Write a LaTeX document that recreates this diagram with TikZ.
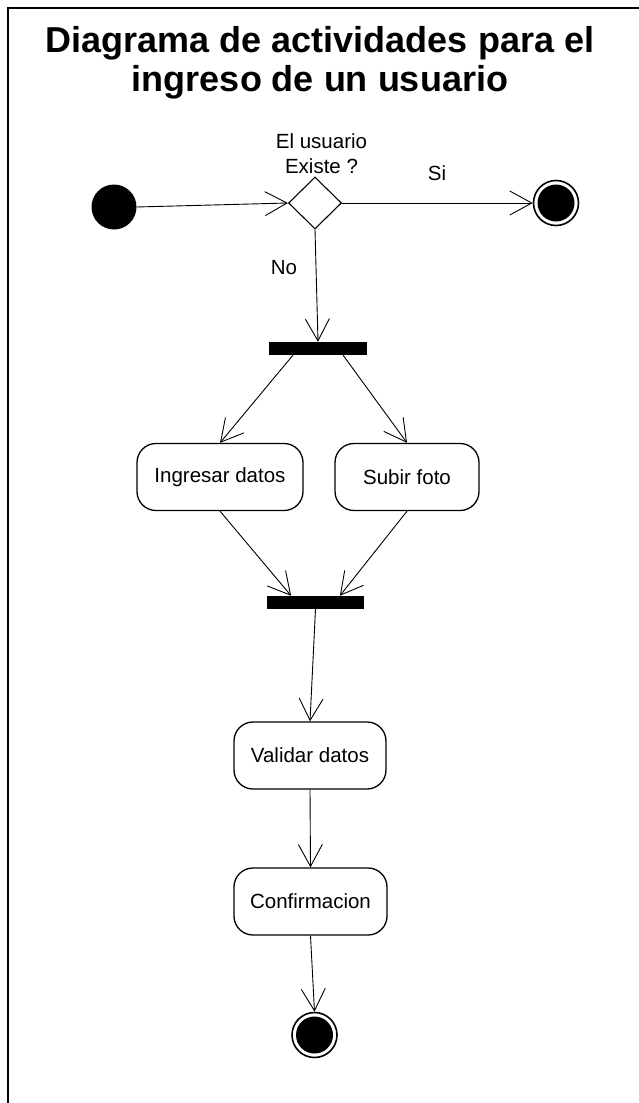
\documentclass[tikz,border=0pt]{standalone}
\usepackage{fontspec}
\setmainfont{Liberation Sans}
\usetikzlibrary{arrows.meta,shapes.geometric,calc}

\tikzset{
  flow/.style={-{Straight Barb[length=22pt,width=24pt]}, line width=0.9pt},
  activity/.style={draw, line width=1.3pt, rounded corners=19pt, inner sep=0pt,
    minimum height=67pt, font=\fontsize{20.5}{25}\selectfont},
  bar/.style={fill=black, draw=none, inner sep=0pt, minimum height=13pt},
  label/.style={anchor=base, inner sep=0pt, font=\fontsize{20.5}{25}\selectfont},
  titletext/.style={anchor=base, inner sep=0pt, font=\fontsize{36}{42}\selectfont\bfseries},
}

\begin{document}
\begin{tikzpicture}[x=1pt, y=-1pt]
  \useasboundingbox (0,0) rectangle (639,1103);

  % frame of the sheet
  \draw[line width=1.6pt] (8,1110) -- (8,8) -- (645,8);

  % heading
  \node[titletext] (title1) at (320,52) {Diagrama de actividades para el};
  \node[titletext] (title2) at (320,91) {ingreso de un usuario};

  % initial state, decision and final state on success
  \node[circle, fill=black, inner sep=0pt, minimum size=45pt] (start) at (114,207) {};
  \node[diamond, draw, line width=1.1pt, inner sep=0pt, minimum width=53pt, minimum height=52pt,
        aspect=1] (dec) at (315,203) {};
  \node[circle, draw, line width=1.6pt, inner sep=0pt, minimum size=45pt,
        path picture={\fill (path picture bounding box.center) circle (18.5pt);}] (endok) at (556,203) {};

  \node[label] (q1) at (321.5,148) {El usuario};
  \node[label] (q2) at (321.5,173) {Existe ?};
  \node[label] (si) at (437,180) {Si};
  \node[label] (no) at (284,274) {No};

  % fork, parallel activities, join
  \node[bar, minimum width=98pt] (fork) at (318,348.5) {};
  \node[activity, minimum width=166pt] (ing) at (220,477) {Ingresar datos};
  \node[activity, minimum width=144pt] (foto) at (407,477) {Subir foto};
  \node[bar, minimum width=97pt] (join) at (315.5,602.5) {};

  % sequential activities and final state
  \node[activity, minimum width=152pt] (val) at (310,755.5) {Validar datos};
  \node[activity, minimum width=153pt] (conf) at (310.5,901.5) {Confirmacion};
  \node[circle, draw, line width=1.6pt, inner sep=0pt, minimum size=45pt,
        path picture={\fill (path picture bounding box.center) circle (18.5pt);}] (endf) at (314.5,1035) {};

  % transitions
  \draw[flow] (start.east) -- (dec.west);
  \draw[flow] (dec.east) -- (endok.west);
  \draw[flow] (dec.south) -- (fork.north);
  \draw[flow] ($(fork.south west)!0.245!(fork.south east)$) -- (ing.north);
  \draw[flow] ($(fork.south west)!0.755!(fork.south east)$) -- (foto.north);
  \draw[flow] (ing.south) -- ($(join.north west)!0.25!(join.north east)$);
  \draw[flow] (foto.south) -- ($(join.north west)!0.75!(join.north east)$);
  \draw[flow] (join.south) -- (val.north);
  \draw[flow] (val.south) -- (conf.north);
  \draw[flow] (conf.south) -- (endf.north);
\end{tikzpicture}
\end{document}
